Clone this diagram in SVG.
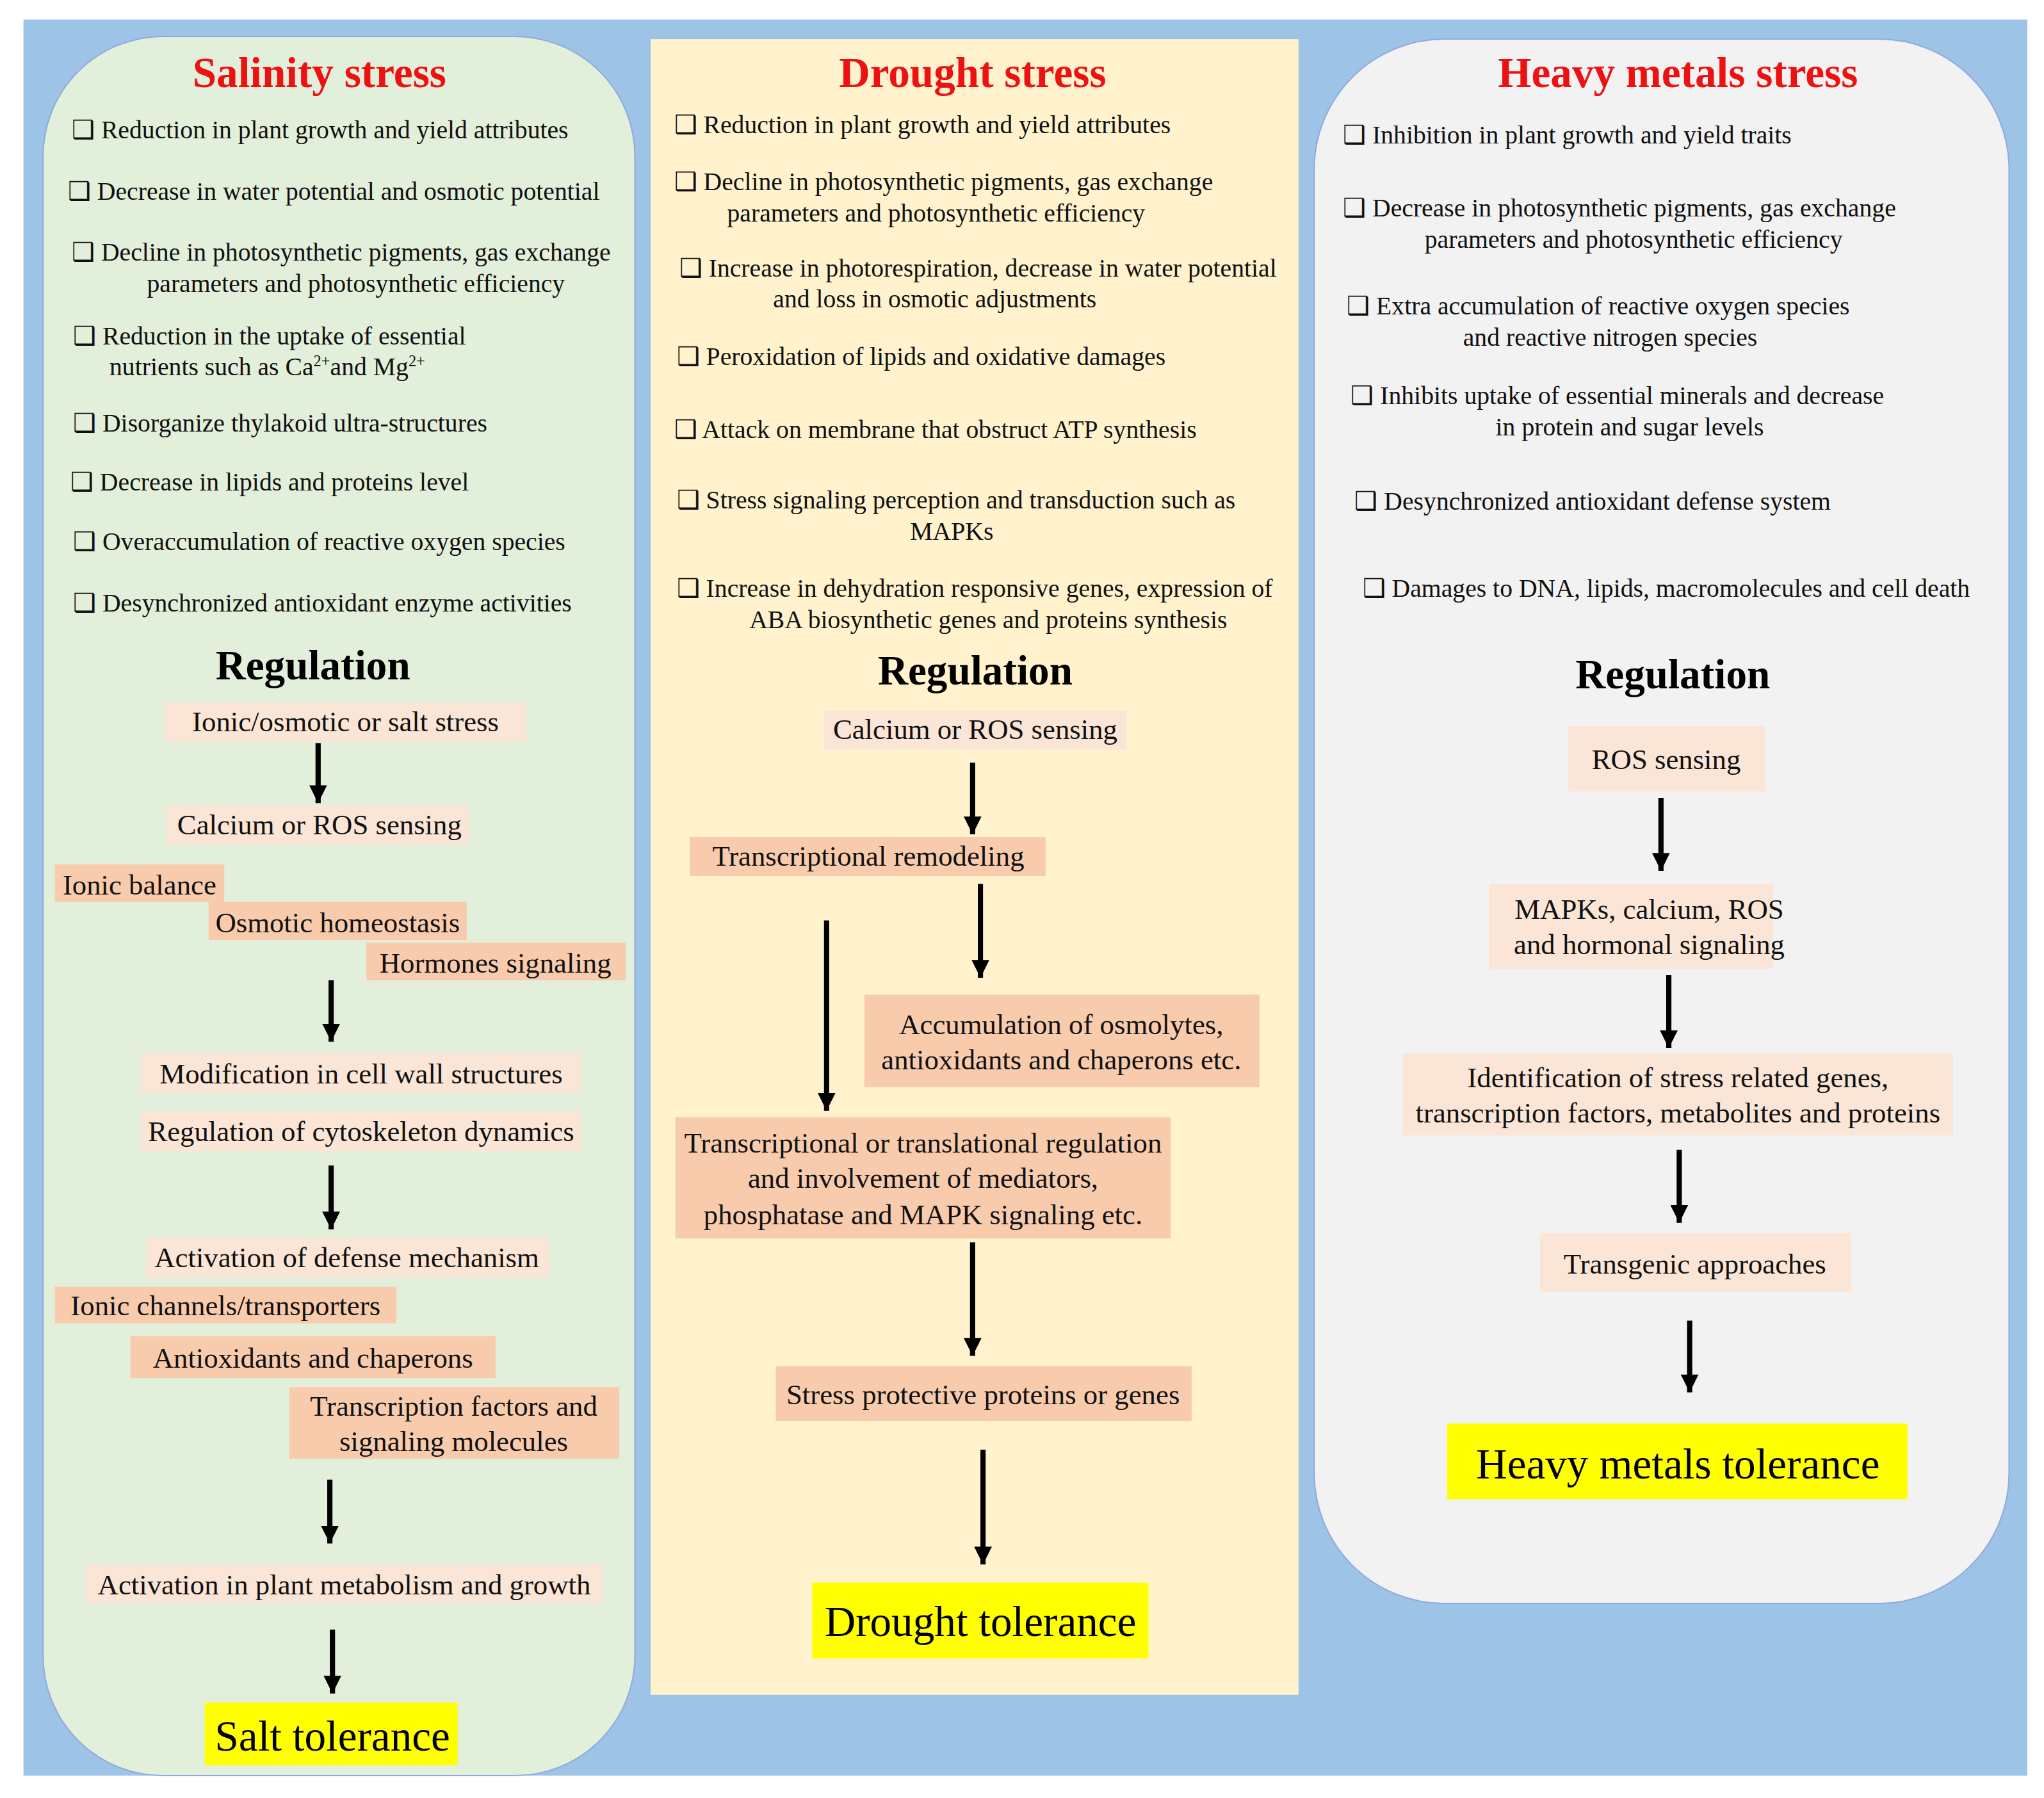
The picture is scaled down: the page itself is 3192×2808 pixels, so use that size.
<svg xmlns="http://www.w3.org/2000/svg" width="3192" height="2808" viewBox="0 0 3192 2808">
<defs>
<marker id="ah" viewBox="0 0 10 10" refX="10" refY="5" markerWidth="3.6" markerHeight="3.4" orient="auto" markerUnits="strokeWidth"><path d="M0,0 L10,5 L0,10 z" fill="#000"/></marker>
<style>
text{font-family:"Liberation Serif","Times New Roman",serif;fill:#111}
.it{font-size:19.5px}
.c{text-anchor:middle}
.ti{font-size:33px;font-weight:bold;fill:#ee1111;text-anchor:middle}
.rg{font-size:32px;font-weight:bold;fill:#000;text-anchor:middle}
.bx{font-size:22px;text-anchor:middle}
.tol{font-size:33px;text-anchor:middle;fill:#000}
.lp{fill:#fbe5d6}
.sp{fill:#f8cbad}
.yl{fill:#ffff00}
.ar{stroke:#000;stroke-width:4;marker-end:url(#ah)}
</style>
</defs>
<rect width="3192" height="2808" fill="#fff"/>
<g transform="scale(2.036)">
<rect x="18" y="15" width="1537" height="1347" fill="#9dc3e6"/>
<g id="salinity">
<rect x="33" y="28" width="454" height="1334" rx="92" fill="#e2efda" stroke="#8faadc" stroke-width="1"/>
<text class="ti" x="245" y="67">Salinity stress</text>
<text class="it" x="55" y="106">❑ Reduction in plant growth and yield attributes</text>
<text class="it" x="52" y="153">❑ Decrease in water potential and osmotic potential</text>
<text class="it" x="55" y="200">❑ Decline in photosynthetic pigments, gas exchange</text>
<text class="it c" x="273" y="224">parameters and photosynthetic efficiency</text>
<text class="it" x="56" y="264">❑ Reduction in the uptake of essential</text>
<text class="it" x="84" y="288">nutrients such as Ca<tspan font-size="12" dy="-7">2+</tspan><tspan dy="7">and Mg</tspan><tspan font-size="12" dy="-7">2+</tspan></text>
<text class="it" x="56" y="331">❑ Disorganize thylakoid ultra-structures</text>
<text class="it" x="54" y="376">❑ Decrease in lipids and proteins level</text>
<text class="it" x="56" y="422">❑ Overaccumulation of reactive oxygen species</text>
<text class="it" x="56" y="469">❑ Desynchronized antioxidant enzyme activities</text>
<text class="rg" x="240" y="521">Regulation</text>
<rect class="lp" x="126" y="539" width="278" height="30"/><text class="bx" x="265" y="561">Ionic/osmotic or salt stress</text>
<rect class="lp" x="128" y="618" width="232" height="30"/><text class="bx" x="245" y="640">Calcium or ROS sensing</text>
<rect class="sp" x="42" y="663" width="130" height="29"/><text class="bx" x="107" y="686">Ionic balance</text>
<rect class="sp" x="160" y="692" width="198" height="29"/><text class="bx" x="259" y="715">Osmotic homeostasis</text>
<rect class="sp" x="281" y="723" width="199" height="29"/><text class="bx" x="380" y="746">Hormones signaling</text>
<rect class="lp" x="108" y="808" width="338" height="30"/><text class="bx" x="277" y="831">Modification in cell wall structures</text>
<rect class="lp" x="108" y="853" width="338" height="30"/><text class="bx" x="277" y="875">Regulation of cytoskeleton dynamics</text>
<rect class="lp" x="112" y="950" width="309" height="30"/><text class="bx" x="266" y="972">Activation of defense mechanism</text>
<rect class="sp" x="42" y="987" width="262" height="28"/><text class="bx" x="173" y="1009">Ionic channels/transporters</text>
<rect class="sp" x="100" y="1025" width="280" height="32"/><text class="bx" x="240" y="1049">Antioxidants and chaperons</text>
<rect class="sp" x="222" y="1064" width="253" height="55"/><text class="bx" x="348" y="1086">Transcription factors and</text><text class="bx" x="348" y="1113">signaling molecules</text>
<rect class="lp" x="66" y="1200" width="396" height="30"/><text class="bx" x="264" y="1223">Activation in plant metabolism and growth</text>
<rect class="yl" x="157" y="1306" width="194" height="48"/><text class="tol" x="255" y="1343">Salt tolerance</text>
</g>
<g id="drought">
<rect x="499" y="30" width="497" height="1270" fill="#fff2cc"/>
<text class="ti" x="746" y="67">Drought stress</text>
<text class="it" x="517" y="102">❑ Reduction in plant growth and yield attributes</text>
<text class="it" x="517" y="146">❑ Decline in photosynthetic pigments, gas exchange</text>
<text class="it c" x="718" y="170">parameters and photosynthetic efficiency</text>
<text class="it" x="521" y="212">❑ Increase in photorespiration, decrease in water potential</text>
<text class="it c" x="717" y="236">and loss in osmotic adjustments</text>
<text class="it" x="519" y="280">❑ Peroxidation of lipids and oxidative damages</text>
<text class="it" x="517" y="336">❑ Attack on membrane that obstruct ATP synthesis</text>
<text class="it" x="519" y="390">❑ Stress signaling perception and transduction such as</text>
<text class="it c" x="730" y="414">MAPKs</text>
<text class="it" x="519" y="458">❑ Increase in dehydration responsive genes, expression of</text>
<text class="it c" x="758" y="482">ABA biosynthetic genes and proteins synthesis</text>
<text class="rg" x="748" y="525">Regulation</text>
<rect class="lp" x="632" y="545" width="232" height="30"/><text class="bx" x="748" y="567">Calcium or ROS sensing</text>
<rect class="sp" x="529" y="642" width="273" height="30"/><text class="bx" x="666" y="664">Transcriptional remodeling</text>
<rect class="sp" x="663" y="763" width="303" height="71"/><text class="bx" x="814" y="793">Accumulation of osmolytes,</text><text class="bx" x="814" y="820">antioxidants and chaperons etc.</text>
<rect class="sp" x="518" y="857" width="380" height="93"/><text class="bx" x="708" y="884">Transcriptional or translational regulation</text><text class="bx" x="708" y="911">and involvement of  mediators,</text><text class="bx" x="708" y="939">phosphatase and MAPK signaling etc.</text>
<rect class="sp" x="595" y="1048" width="319" height="42"/><text class="bx" x="754" y="1077">Stress protective proteins or genes</text>
<rect class="yl" x="623" y="1214" width="258" height="58"/><text class="tol" x="752" y="1255">Drought tolerance</text>
</g>
<g id="heavy">
<rect x="1008" y="30" width="533" height="1200" rx="100" fill="#f2f2f2" stroke="#8faadc" stroke-width="1"/>
<text class="ti" x="1287" y="67">Heavy metals stress</text>
<text class="it" x="1030" y="110">❑ Inhibition in plant growth and yield traits</text>
<text class="it" x="1030" y="166">❑ Decrease in photosynthetic pigments, gas exchange</text>
<text class="it c" x="1253" y="190">parameters and photosynthetic efficiency</text>
<text class="it" x="1033" y="241">❑ Extra accumulation of reactive oxygen species</text>
<text class="it c" x="1235" y="265">and reactive nitrogen species</text>
<text class="it" x="1036" y="310">❑ Inhibits uptake of essential minerals and decrease</text>
<text class="it c" x="1250" y="334">in protein and sugar levels</text>
<text class="it" x="1039" y="391">❑ Desynchronized antioxidant defense system</text>
<text class="it" x="1045" y="458">❑ Damages to DNA, lipids, macromolecules and cell death</text>
<text class="rg" x="1283" y="528">Regulation</text>
<rect class="lp" x="1203" y="557" width="151" height="50"/><text class="bx" x="1278" y="590">ROS sensing</text>
<rect class="lp" x="1142" y="678" width="218" height="65"/><text class="bx" x="1265" y="705">MAPKs, calcium, ROS</text><text class="bx" x="1265" y="732">and hormonal signaling</text>
<rect class="lp" x="1076" y="808" width="422" height="63"/><text class="bx" x="1287" y="834">Identification of stress related genes,</text><text class="bx" x="1287" y="861">transcription factors, metabolites and proteins</text>
<rect class="lp" x="1181" y="946" width="239" height="45"/><text class="bx" x="1300" y="977">Transgenic approaches</text>
<rect class="yl" x="1110" y="1092" width="353" height="58"/><text class="tol" x="1287" y="1134">Heavy metals tolerance</text>
</g>
<g id="connectors">
<line class="ar" x1="244" y1="570" x2="244" y2="616"/>
<line class="ar" x1="254" y1="752" x2="254" y2="799"/>
<line class="ar" x1="254" y1="894" x2="254" y2="943"/>
<line class="ar" x1="253" y1="1135" x2="253" y2="1184"/>
<line class="ar" x1="255" y1="1250" x2="255" y2="1299"/>
<line class="ar" x1="746" y1="585" x2="746" y2="640"/>
<line class="ar" x1="752" y1="678" x2="752" y2="750"/>
<line class="ar" x1="634" y1="706" x2="634" y2="852"/>
<line class="ar" x1="746" y1="953" x2="746" y2="1040"/>
<line class="ar" x1="754" y1="1112" x2="754" y2="1200"/>
<line class="ar" x1="1274" y1="612" x2="1274" y2="668"/>
<line class="ar" x1="1280" y1="748" x2="1280" y2="804"/>
<line class="ar" x1="1288" y1="882" x2="1288" y2="938"/>
<line class="ar" x1="1296" y1="1013" x2="1296" y2="1068"/>
</g>
</g>
</svg>
